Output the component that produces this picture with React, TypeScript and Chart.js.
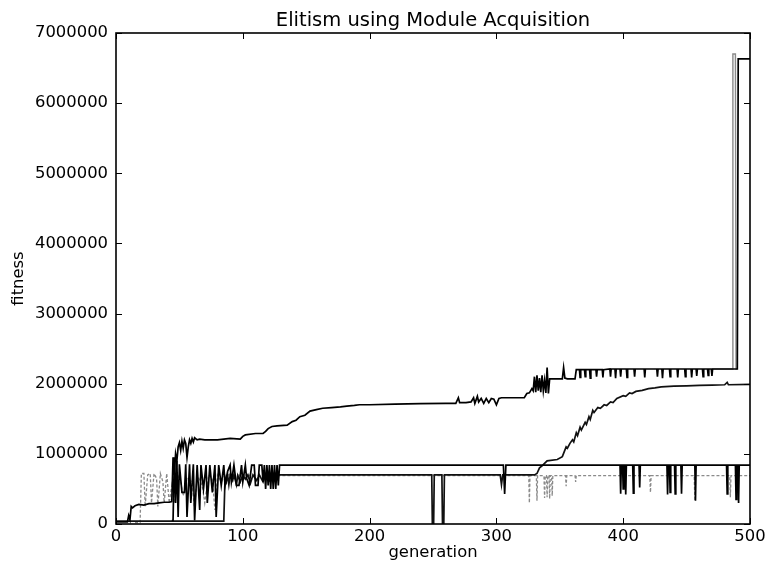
import React, { useEffect, useRef } from "react";
import { Chart, registerables } from "chart.js";

Chart.register(...registerables);

const chartTitle = "Elitism using Module Acquisition";

// [generation, fitness in thousands]
const bestRun: [number, number][] = [
  [0, 30], [9, 30], [10, 120], [11, 60], [12, 250], [13, 230], [15, 260], [18, 280], [22, 270], [26, 290], [30, 290], [34, 300], [38, 310], [42, 310], [44, 320],
  [45, 950], [46, 700], [47, 1000], [48, 900], [49, 1100], [50, 1160], [51, 1050], [52, 1180], [53, 1080], [54, 1200], [55, 1150], [56, 950], [57, 1100], [58, 1200], [59, 1150], [60, 1220], [61, 1170], [62, 1230], [64, 1200], [66, 1210], [70, 1200], [80, 1200], [90, 1220], [98, 1210],
  [100, 1250], [102, 1270], [110, 1290], [116, 1290], [118, 1320], [120, 1360], [123, 1390], [127, 1400], [135, 1410], [139, 1460], [142, 1480], [145, 1530], [149, 1550], [153, 1610], [158, 1630], [163, 1650], [170, 1660], [177, 1670], [182, 1680], [188, 1690], [192, 1700],
  [200, 1700], [220, 1710], [240, 1715], [260, 1720], [268, 1720], [270, 1800], [271, 1730], [276, 1730], [280, 1740], [282, 1800], [283, 1720], [285, 1820], [286, 1740], [288, 1790], [290, 1720], [292, 1790], [294, 1730], [296, 1790], [298, 1780],
  [300, 1700], [302, 1790], [304, 1800], [322, 1800], [324, 1860], [326, 1870], [328, 1930], [329, 1900], [330, 2100], [331, 1880], [332, 2120], [333, 1900], [334, 2080], [335, 1880], [336, 2120], [337, 1900], [338, 2050], [339, 1870], [340, 2230], [341, 1860], [342, 2070],
  [352, 2070], [353, 2230], [354, 2080], [356, 2070], [362, 2070], [363, 2200],
  [365.5, 2200], [366, 2090], [366.5, 2200], [369.5, 2200], [370, 2100], [370.5, 2200], [373.5, 2200], [374, 2080], [374.5, 2200], [378.5, 2200], [379, 2100], [379.5, 2200], [383.5, 2200], [384, 2090], [384.5, 2200],
  [389.5, 2210], [390, 2100], [390.5, 2210], [393.5, 2210], [394, 2080], [394.5, 2210], [397.5, 2210], [398, 2100], [398.5, 2210], [402.5, 2210], [403, 2090], [403.5, 2210], [408.5, 2210], [409, 2100], [409.5, 2210],
  [416.5, 2210], [417, 2090], [417.5, 2210], [426.5, 2210], [427, 2100], [427.5, 2210], [430.5, 2210], [431, 2080], [431.5, 2210], [436.5, 2210], [437, 2100], [437.5, 2210], [442.5, 2210], [443, 2090], [443.5, 2210],
  [448.5, 2210], [449, 2100], [449.5, 2210], [453.5, 2210], [454, 2090], [454.5, 2210], [457.5, 2210], [458, 2110], [458.5, 2210], [462.5, 2210], [463, 2100], [463.5, 2210], [466.5, 2210], [467, 2120], [467.5, 2210],
  [469.5, 2210], [470, 2110], [470.5, 2210], [490, 2210], [490.7, 6630], [500, 6630],
];

const climbRun: [number, number][] = [
  [0, 40], [85, 40], [86, 660], [87, 600], [88, 700], [89, 560], [90, 690], [92, 620], [93, 700], [95, 560], [96, 690], [98, 600], [100, 700], [102, 640], [104, 700], [106, 580], [108, 700], [111, 620], [113, 700], [116, 600], [118, 700], [121, 620], [123, 700], [126, 600], [128, 700],
  [200, 700], [249, 700], [249.5, 0], [250.5, 0], [251, 700], [257, 700], [257.5, 0], [258.5, 0], [259, 700], [303, 700], [304, 560], [305, 700], [330, 700], [332, 720],
  [334, 800], [336, 830], [340, 900], [348, 920], [352, 960], [355, 1100], [356, 1080], [358, 1150], [360, 1200], [361, 1170], [363, 1300], [364, 1260], [366, 1380], [367, 1340], [370, 1450], [371, 1420], [373, 1530], [374, 1490], [376, 1620], [377, 1590], [380, 1660], [382, 1650], [385, 1700], [387, 1690], [390, 1740], [392, 1730], [395, 1790],
  [400, 1830], [402, 1820], [405, 1870], [407, 1860], [410, 1890], [415, 1905], [420, 1930], [425, 1940], [430, 1955], [440, 1965], [450, 1970], [460, 1975], [470, 1980], [480, 1985], [482, 2020], [483, 1985], [500, 1990],
];

const upperRun: [number, number][] = [
  [44, 50], [45, 50], [46, 950], [47, 300], [48, 900], [49, 100], [50, 850], [52, 450], [54, 450], [55, 850], [56, 100], [58, 850], [59, 300], [61, 850], [62, 50], [64, 840], [66, 200], [67, 840], [69, 500], [71, 840], [72, 300], [74, 840], [76, 450], [78, 840], [79, 100],
  [81, 840], [83, 550], [85, 840], [86, 550], [88, 750], [90, 840], [91, 600], [93, 840], [95, 550], [97, 550], [99, 840], [100, 600], [102, 840], [103, 650], [105, 550], [107, 840], [109, 840], [110, 550], [112, 550], [113, 840], [115, 840], [116, 600], [117, 840],
  [118, 500], [119, 840], [120, 550], [121, 840], [122, 500], [123, 840], [124, 500], [125, 840], [126, 500], [127, 840], [128, 550], [129, 840],
  [305.5, 840], [306.5, 430], [307.5, 840], [397.5, 840], [398, 430], [398.5, 840], [399.5, 840], [400, 500], [400.5, 840], [401.5, 840], [402, 420], [402.5, 840], [407.5, 840], [408, 440], [408.5, 840],
  [412.5, 840], [413, 520], [413.5, 840], [434.5, 840], [435, 420], [435.5, 840], [436.5, 840], [437, 450], [437.5, 840], [440.5, 840], [441, 430], [441.5, 840], [445.5, 840], [446, 430], [446.5, 840],
  [456.5, 840], [457, 330], [457.5, 840], [481.5, 840], [482, 430], [482.5, 840], [488.5, 840], [489, 350], [489.5, 840], [490.5, 840], [491, 300], [491.5, 840], [500, 840],
];

const lowerRun: [number, number][] = [
  [15, 20], [19, 20], [20, 720], [22, 720], [23, 250], [25, 700], [27, 720], [28, 300], [30, 720], [32, 650], [33, 250], [35, 720], [37, 600], [38, 300], [40, 720], [42, 300], [44, 550], [46, 300], [48, 600],
  [50, 700], [53, 400], [56, 650], [60, 600], [62, 200], [64, 700], [68, 550], [70, 300], [73, 700], [76, 650], [78, 200], [80, 700], [83, 600], [86, 700], [128, 690],
  [325.5, 690], [326, 300], [326.5, 690], [331.5, 690], [332, 330], [332.5, 690], [337.5, 690], [338, 370], [338.5, 690], [339.5, 690], [340, 380], [340.5, 690], [341.5, 690], [342, 360], [342.5, 690],
  [343.5, 690], [344, 400], [344.5, 690], [354.5, 690], [355, 540], [355.5, 690], [362, 690], [362.5, 600], [363, 690], [421, 690], [421.5, 450], [422, 690], [456, 690], [456.5, 330], [457, 690],
  [484, 690], [484.5, 380], [485, 690], [500, 690],
];

const jumpRun: [number, number][] = [
  [470, 2210], [486, 2210], [486.5, 6700], [488.5, 6700], [489, 2210], [490, 2210],
];

const xTicks = [0, 100, 200, 300, 400, 500];
const yTicks = [0, 1000000, 2000000, 3000000, 4000000, 5000000, 6000000, 7000000];

const toPoints = (run: [number, number][]) => run.map(([g, f]) => ({ x: g, y: f * 1000 }));

const framePlugin = {
  id: "frameTicks",
  afterDraw(chart: any) {
    const { ctx, chartArea, scales } = chart;
    const { left, right, top, bottom } = chartArea;
    ctx.save();
    ctx.strokeStyle = "#000";
    ctx.lineWidth = 1;
    const len = 6;
    ctx.beginPath();
    xTicks.forEach((t) => {
      const px = Math.round(scales.x.getPixelForValue(t)) + 0.5;
      ctx.moveTo(px, bottom);
      ctx.lineTo(px, bottom - len);
      ctx.moveTo(px, top);
      ctx.lineTo(px, top + len);
    });
    yTicks.forEach((t) => {
      const py = Math.round(scales.y.getPixelForValue(t)) + 0.5;
      ctx.moveTo(left, py);
      ctx.lineTo(left + len, py);
      ctx.moveTo(right, py);
      ctx.lineTo(right - len, py);
    });
    ctx.stroke();
    ctx.lineWidth = 1.6;
    ctx.strokeRect(left, top, right - left, bottom - top);
    // title centred over the plot area
    ctx.fillStyle = "#000";
    ctx.font = "19.5px 'DejaVu Sans', sans-serif";
    ctx.textAlign = "center";
    ctx.textBaseline = "alphabetic";
    ctx.fillText(chartTitle, (left + right) / 2, 26);
    ctx.restore();
  },
};

export default function App() {
  const ref = useRef<HTMLCanvasElement>(null);
  useEffect(() => {
    if (!ref.current) return;
    Chart.defaults.font.family = "'DejaVu Sans', sans-serif";
    Chart.defaults.color = "#000";
    const line = (data: any, color: string, width: number, dash: number[] = []) => ({
      data,
      borderColor: color,
      borderWidth: width,
      borderDash: dash,
      pointRadius: 0,
      tension: 0,
      fill: false,
    });
    const chart = new Chart(ref.current, {
      type: "line",
      data: {
        datasets: [
          line(toPoints(bestRun), "#000", 1.7),
          line(toPoints(jumpRun), "#8a8a8a", 1.4),
          line(toPoints(upperRun), "#000", 1.7),
          line(toPoints(climbRun), "#111", 1.7),
          line(toPoints(lowerRun), "#8a8a8a", 1.3, [3, 2]),
        ],
      },
      options: {
        responsive: false,
        animation: false,
        layout: { padding: { left: 0, right: 19, top: 33, bottom: 0 } },
        plugins: {
          legend: { display: false },
          tooltip: { enabled: false },
          title: { display: false },
        },
        scales: {
          x: {
            type: "linear",
            min: 0,
            max: 500,
            grid: { display: false, drawTicks: false },
            border: { display: false },
            ticks: { stepSize: 100, font: { size: 16.4 }, padding: 3, color: "#000", maxRotation: 0 },
            title: { display: true, text: "generation", font: { size: 16.4 }, color: "#000", padding: { top: 0, bottom: 5 } },
            afterFit: (s: any) => { s.height = 44; },
          },
          y: {
            type: "linear",
            min: 0,
            max: 7000000,
            grid: { display: false, drawTicks: false },
            border: { display: false },
            ticks: { stepSize: 1000000, font: { size: 16.4 }, padding: 8, color: "#000", callback: (v: any) => String(v) },
            title: { display: true, text: "fitness", font: { size: 16.4 }, color: "#000", padding: { top: 9, bottom: 0 } },
            afterFit: (s: any) => { s.width = 116; },
          },
        },
      },
      plugins: [framePlugin],
    });
    return () => chart.destroy();
  }, []);
  return (
    <div style={{ position: "fixed", left: 0, top: 0, width: 769, height: 568, background: "#fff" }}>
      <canvas ref={ref} width={769} height={568} style={{ display: "block" }} />
    </div>
  );
}
